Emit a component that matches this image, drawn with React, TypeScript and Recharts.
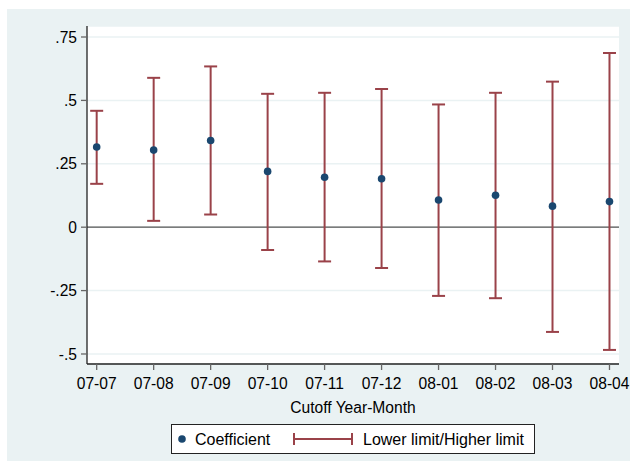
import React from 'react';
import { ComposedChart, Scatter, ErrorBar, XAxis, YAxis, CartesianGrid, ReferenceLine } from 'recharts';

const categories = ['07-07', '07-08', '07-09', '07-10', '07-11', '07-12', '08-01', '08-02', '08-03', '08-04'];
const coefficient = [0.316, 0.304, 0.342, 0.22, 0.197, 0.191, 0.107, 0.126, 0.083, 0.101];
const lowerLimit = [0.171, 0.025, 0.05, -0.09, -0.135, -0.161, -0.271, -0.28, -0.413, -0.484];
const higherLimit = [0.459, 0.589, 0.634, 0.526, 0.53, 0.545, 0.484, 0.53, 0.574, 0.687];
const yTicks = [-0.5, -0.25, 0, 0.25, 0.5, 0.75];
const yTickLabels = ['-.5', '-.25', '0', '.25', '.5', '.75'];

const data = categories.map((c, i) => ({
  x: i,
  coef: coefficient[i],
  err: [coefficient[i] - lowerLimit[i], higherLimit[i] - coefficient[i]],
}));

const FONT = '"Liberation Sans", Arial, sans-serif';
const NAVY = '#1a476f';
const MAROON = '#9a4249';
const BG = '#eaf2f3';

const Dot = (props: any) => {
  const { cx, cy } = props;
  if (cx == null || cy == null) return null;
  return <circle cx={cx} cy={cy} r={3.8} fill={NAVY} />;
};

export default function App() {
  return (
    <div style={{ position: 'absolute', left: 7, top: 9, width: 623, height: 452, background: BG, fontFamily: FONT }}>
      <ComposedChart
        width={623}
        height={452}
        data={data}
        margin={{ top: 17, right: 11, left: 0, bottom: 0 }}
      >
        <CartesianGrid horizontal vertical={false} fill="#ffffff" stroke={BG} strokeWidth={1.5} />
        <XAxis
          type="number"
          dataKey="x"
          domain={[-0.17, 9.167]}
          ticks={categories.map((_, i) => i)}
          tickFormatter={(v: number) => categories[v]}
          allowDataOverflow
          height={97}
          tickSize={6}
          tickMargin={8}
          axisLine={{ stroke: '#222', strokeWidth: 1.3 }}
          tickLine={{ stroke: '#666', strokeWidth: 1.3 }}
          tick={{ fill: '#000', fontSize: 15.6, fontFamily: FONT }}
          interval={0}
          label={{ value: 'Cutoff Year-Month', position: 'insideBottom', offset: 48, fill: '#000', fontSize: 15.6, fontFamily: FONT }}
        />
        <YAxis
          type="number"
          dataKey="coef"
          domain={[-0.5395, 0.7934]}
          ticks={yTicks}
          tickFormatter={(v: number) => yTickLabels[yTicks.indexOf(v)]}
          allowDataOverflow
          width={80}
          tickSize={6}
          tickMargin={4}
          axisLine={{ stroke: '#222', strokeWidth: 1.3 }}
          tickLine={{ stroke: '#666', strokeWidth: 1.3 }}
          tick={{ fill: '#000', fontSize: 15.6, fontFamily: FONT }}
          interval={0}
        />
        <ReferenceLine y={0} stroke="#555" strokeWidth={1.3} />
        <Scatter dataKey="coef" isAnimationActive={false} shape={<Dot />}>
          <ErrorBar dataKey="err" direction="y" width={6.5} stroke={MAROON} strokeWidth={2} isAnimationActive={false} />
        </Scatter>
      </ComposedChart>
      <svg width={623} height={452} style={{ position: 'absolute', left: 0, top: 0, pointerEvents: 'none' }}>
        <rect x={164.5} y={415.5} width={363} height={29} fill="#fff" stroke="#222" strokeWidth={1} />
        <circle cx={175} cy={430} r={3.8} fill={NAVY} />
        <text x={188} y={436} fontSize={16} fontFamily={FONT} fill="#000">Coefficient</text>
        <line x1={286} y1={430} x2={346} y2={430} stroke={MAROON} strokeWidth={2} />
        <line x1={287} y1={424} x2={287} y2={436} stroke={MAROON} strokeWidth={2} />
        <line x1={345} y1={424} x2={345} y2={436} stroke={MAROON} strokeWidth={2} />
        <text x={356} y={436} fontSize={16} fontFamily={FONT} fill="#000">Lower limit/Higher limit</text>
      </svg>
    </div>
  );
}
